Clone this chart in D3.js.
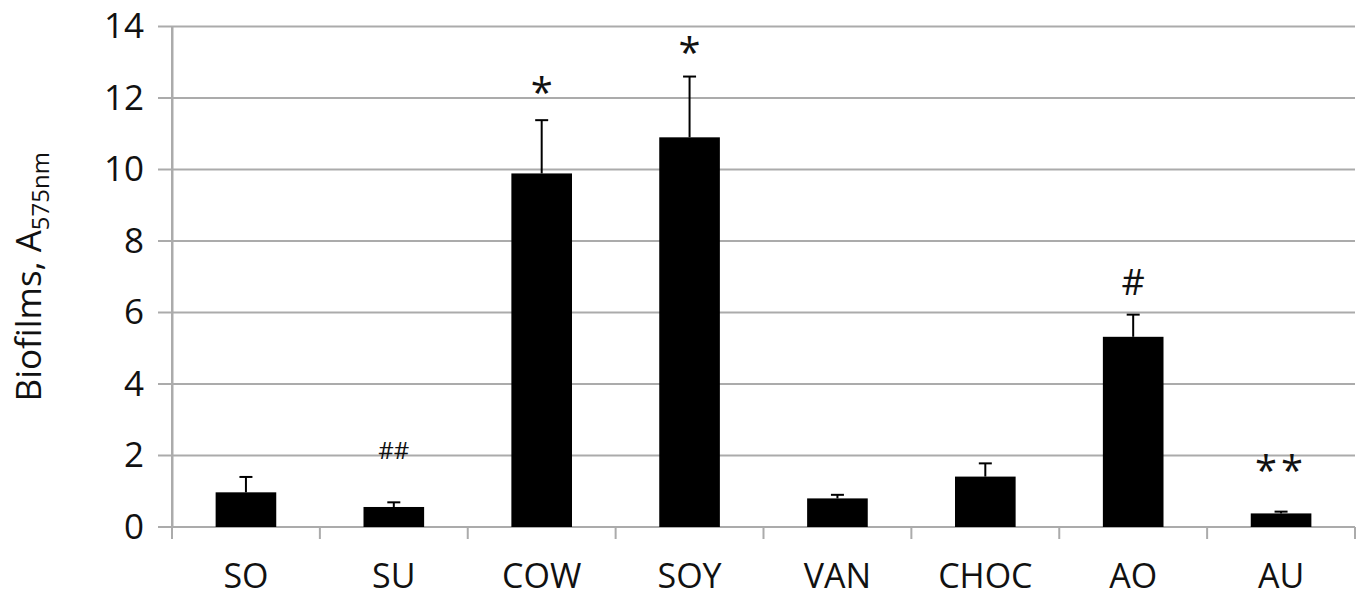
<!DOCTYPE html>
<html>
<head>
<meta charset="utf-8">
<script src="https://cdn.jsdelivr.net/npm/d3@7"></script>
<style>
  html, body { margin: 0; padding: 0; background: #fff; }
  svg { display: block; font-family: "Open Sans", sans-serif; }
</style>
</head>
<body>
<svg id="chart" width="1361" height="599"></svg>
<script>
const categories = ["SO", "SU", "COW", "SOY", "VAN", "CHOC", "AO", "AU"];
const means      = [0.97, 0.56, 9.89, 10.9, 0.80, 1.41, 5.32, 0.38];
const errors     = [0.43, 0.13, 1.49, 1.70, 0.10, 0.37, 0.62, 0.05];
const annotations = ["", "##", "*", "*", "", "", "#", "**"];
const annotLevels = [null, 2.13, 12.3, 13.43, null, null, 6.85, 1.73];
const yTicks = [0, 2, 4, 6, 8, 10, 12, 14];

const svg = d3.select("#chart");
const margin = { left: 172, right: 6, top: 26.5, bottom: 72 };
const W = 1361, H = 599;
const x = d3.scaleBand().domain(categories).range([margin.left, W - margin.right]).paddingInner(0.59).paddingOuter(0.295);
const xb = d3.scaleBand().domain(categories).range([margin.left, W - margin.right]);
const y = d3.scaleLinear().domain([0, 14]).range([H - margin.bottom, margin.top]);

const gridColor = "#ababab";

// gridlines
svg.append("g")
  .selectAll("line").data(yTicks).join("line")
  .attr("x1", margin.left - 14).attr("x2", W - margin.right)
  .attr("y1", d => y(d)).attr("y2", d => y(d))
  .attr("stroke", gridColor).attr("stroke-width", 2);

// y axis
const yAxis = svg.append("g").attr("transform", `translate(${margin.left},0)`)
  .call(d3.axisLeft(y).tickValues(yTicks).tickSize(0).tickPadding(28));
yAxis.select(".domain").attr("stroke", gridColor).attr("stroke-width", 2);
yAxis.selectAll("text").attr("font-size", 35).attr("fill", "#111").attr("font-family", "Open Sans");

// x axis
const xAxis = svg.append("g").attr("transform", `translate(0,${y(0)})`)
  .call(d3.axisBottom(xb).tickSize(0).tickPadding(37));
xAxis.select(".domain").remove();
xAxis.selectAll("text").attr("font-size", 34).attr("fill", "#111").attr("font-family", "Open Sans");
// category boundary ticks
const bounds = categories.map(c => xb(c)).concat([xb(categories[categories.length - 1]) + xb.bandwidth()]);
svg.append("g").selectAll("line").data(bounds).join("line")
  .attr("x1", d => d).attr("x2", d => d)
  .attr("y1", y(0)).attr("y2", y(0) + 12)
  .attr("stroke", gridColor).attr("stroke-width", 2);
svg.append("line").attr("x1", margin.left).attr("x2", margin.left)
  .attr("y1", y(14)).attr("y2", y(0) + 12).attr("stroke", gridColor).attr("stroke-width", 2);

// bars
svg.append("g").selectAll("rect").data(categories).join("rect")
  .attr("x", d => x(d)).attr("width", x.bandwidth())
  .attr("y", (d, i) => y(means[i])).attr("height", (d, i) => y(0) - y(means[i]))
  .attr("fill", "#000");

// error bars
const eg = svg.append("g").attr("stroke", "#000").attr("stroke-width", 2);
categories.forEach((c, i) => {
  const cx = x(c) + x.bandwidth() / 2;
  eg.append("line").attr("x1", cx).attr("x2", cx).attr("y1", y(means[i])).attr("y2", y(means[i] + errors[i]));
  eg.append("line").attr("x1", cx - 6.5).attr("x2", cx + 6.5).attr("y1", y(means[i] + errors[i])).attr("y2", y(means[i] + errors[i]));
});

// annotations
const annSize = { "*": 40, "**": 40, "#": 36, "##": 24 };
const annDy = { "*": 0.5, "**": 0.5, "#": 0.36, "##": 0.36 };
const annIdx = d3.range(categories.length).filter(i => annotations[i] !== "");
svg.append("g").selectAll("text").data(annIdx).join("text")
  .attr("x", i => x(categories[i]) + x.bandwidth() / 2)
  .attr("y", i => y(annotLevels[i]))
  .attr("dy", i => annDy[annotations[i]] + "em")
  .attr("text-anchor", "middle")
  .attr("font-size", i => annSize[annotations[i]])
  .attr("letter-spacing", i => annotations[i] === "**" ? 4 : 0)
  .attr("fill", "#111")
  .text(i => annotations[i]);

// y title
const yt = svg.append("text")
  .attr("transform", `translate(41, ${(y(0) + y(14)) / 2 + 0}) rotate(-90)`)
  .attr("text-anchor", "middle").attr("font-size", 35).attr("fill", "#111");
yt.append("tspan").text("Biofilms, A");
yt.append("tspan").attr("font-size", 24).attr("dy", 8).text("575nm");
</script>
</body>
</html>
